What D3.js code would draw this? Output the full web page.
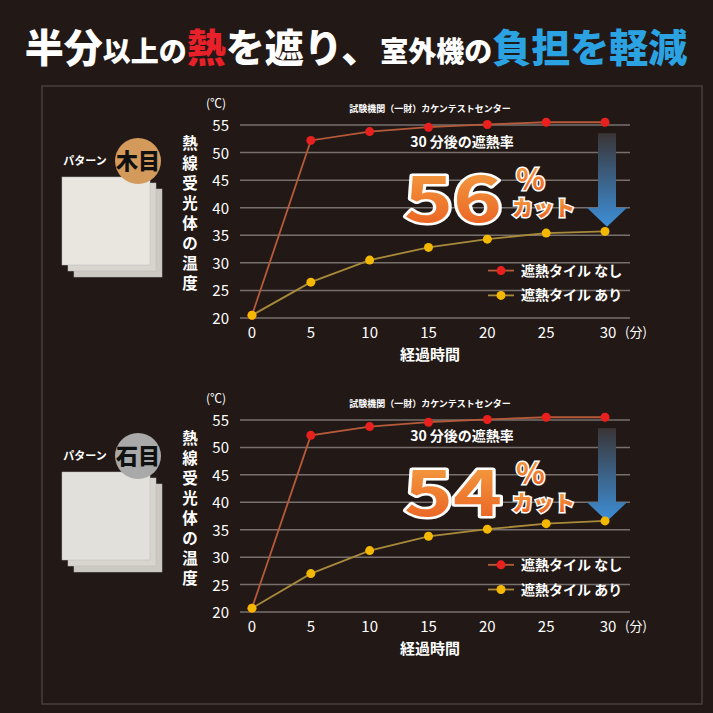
<!DOCTYPE html><html><head><meta charset="utf-8"><script src="https://cdn.jsdelivr.net/npm/d3@7"></script>
<style>body{margin:0;background:#221916}svg{display:block}text{font-family:"Noto Sans CJK JP",sans-serif}</style></head><body>
<svg id="c" width="713" height="713"></svg>
<script>
const minutes=[0,5,10,15,20,25,30];
const yTicks=[20,25,30,35,40,45,50,55];
const woodNone=[20.5,52.2,53.8,54.6,55.1,55.5,55.5];
const woodWith=[20.5,26.5,30.5,32.8,34.3,35.4,35.7];
const stoneNone=[20.7,52.2,53.8,54.6,55.1,55.5,55.5];
const stoneWith=[20.7,27.0,31.2,33.8,35.1,36.1,36.6];
const panels=[{top:125,bot:318,none:woodNone,with:woodWith,pct:"56",pat:"木目",circ:"#d39a5c",tile:"#e8e6df"},
{top:420,bot:612,none:stoneNone,with:stoneWith,pct:"54",pat:"石目",circ:"#a9a9a9",tile:"#e2e0da"}];
const svg=d3.select("#c");
svg.append("rect").attr("width",713).attr("height",713).attr("fill","#221916");
svg.append("rect").attr("x",42).attr("y",86).attr("width",660).attr("height",618).attr("fill","none").attr("stroke","#4a3e3a").attr("stroke-width",1.5);
const t=svg.append("text").attr("x",356).attr("y",62).attr("text-anchor","middle").attr("font-weight","900").attr("fill","#fff");
[["半分","#fff",39],["以上の","#fff",28],["熱","#e8202a",39],["を遮り、","#fff",39],["室外機の","#fff",28],["負担を軽減","#2ba3e3",39]].forEach(([s,c,f])=>t.append("tspan").text(s).attr("fill",c).attr("font-size",f));
const x=d3.scaleLinear().domain([0,30]).range([252,605]);
const defs=svg.append("defs");
const g1=defs.append("linearGradient").attr("id","arr").attr("x1",0).attr("x2",0).attr("y1",0).attr("y2",1);
g1.append("stop").attr("offset",0).attr("stop-color","#3a3536");g1.append("stop").attr("offset",1).attr("stop-color","#3d8fd8");
const g2=defs.append("linearGradient").attr("id","num").attr("x1",0).attr("x2",0).attr("y1",0).attr("y2",1);
g2.append("stop").attr("offset",0).attr("stop-color","#f7b04a");g2.append("stop").attr("offset",1).attr("stop-color","#e8571e");
panels.forEach(p=>{
 const y=d3.scaleLinear().domain([20,55]).range([p.bot,p.top]);
 const g=svg.append("g");
 yTicks.forEach(v=>{g.append("line").attr("x1",240).attr("x2",630).attr("y1",y(v)).attr("y2",y(v)).attr("stroke","#77706d").attr("stroke-width",1.5);
  g.append("text").attr("x",229).attr("y",y(v)+6).attr("text-anchor","end").attr("fill","#fff").attr("font-size",15).attr("font-family","Liberation Sans,Arial").text(v);});
 g.append("text").attr("x",206).attr("y",y(55)-17).attr("fill","#fff").attr("font-size",12).text("(℃)");
 minutes.forEach(m=>g.append("text").attr("x",x(m)+(m==30?3:0)).attr("y",p.bot+20).attr("text-anchor","middle").attr("fill","#fff").attr("font-size",15).attr("font-family","Liberation Sans,Arial").text(m));
 g.append("text").attr("x",636).attr("y",p.bot+19).attr("text-anchor","middle").attr("fill","#fff").attr("font-size",13).text("(分)");
 g.append("text").attr("x",430).attr("y",p.bot+42).attr("text-anchor","middle").attr("fill","#fff").attr("font-size",15).attr("font-weight","bold").text("経過時間");
 g.append("text").attr("x",430).attr("y",y(55)-13).attr("text-anchor","middle").attr("fill","#fff").attr("font-size",9).attr("font-weight","bold").text("試験機関（一財）カケンテストセンター");
 g.append("path").attr("d",`M598,${y(53.5)} h18 v${y(40)-y(53.5)} h11 l-20,19 l-20,-19 h11 z`).attr("fill","url(#arr)");
 g.append("text").attr("x",462).attr("y",y(52)+5).attr("text-anchor","middle").attr("fill","#fff").attr("font-size",14).attr("font-weight","bold").text("30 分後の遮熱率");
 g.append("text").attr("transform",`translate(404,${y(37.5)}) scale(1.3,1)`).attr("fill","url(#num)").attr("stroke","#fff").attr("stroke-width",5).attr("stroke-linejoin","round").attr("paint-order","stroke").attr("font-size",64).attr("font-weight","bold").attr("font-family","DejaVu Sans").text(p.pct);
 g.append("text").attr("x",516).attr("y",y(43.3)).attr("fill","url(#num)").attr("stroke","#fff").attr("stroke-width",3).attr("paint-order","stroke").attr("font-size",30).attr("font-weight","bold").attr("font-family","DejaVu Sans").text("%");
 g.append("text").attr("x",512).attr("y",y(38.6)).attr("fill","url(#num)").attr("stroke","#fff").attr("stroke-width",3).attr("paint-order","stroke").attr("font-size",21).attr("font-weight","900").text("カット");
 const line=d3.line().x((d,i)=>x(minutes[i])).y(d=>y(d));
 [[p.none,"#b65a3a","#e8201e"],[p.with,"#a88a3a","#f5b800"]].forEach(([d,lc,pc])=>{
  g.append("path").attr("d",line(d)).attr("fill","none").attr("stroke",lc).attr("stroke-width",1.8);
  g.selectAll(null).data(d).enter().append("circle").attr("cx",(v,i)=>x(minutes[i])).attr("cy",v=>y(v)).attr("r",4.5).attr("fill",pc);
 });
 [["遮熱タイル なし","#b65a3a","#e8201e",y(28.6)],["遮熱タイル あり","#a88a3a","#f5b800",y(24.1)]].forEach(([s,lc,pc,yy])=>{
  g.append("line").attr("x1",488).attr("x2",514).attr("y1",yy).attr("y2",yy).attr("stroke",lc).attr("stroke-width",1.8);
  g.append("circle").attr("cx",501).attr("cy",yy).attr("r",4.5).attr("fill",pc);
  g.append("text").attr("x",521).attr("y",yy+5).attr("fill","#fff").attr("font-size",14).attr("font-weight","bold").text(s);
 });
 const ty=p.top+30;
 ["#ccc9c2","#d8d5cf",p.tile].forEach((c,i)=>g.append("rect").attr("x",62+(2-i)*6).attr("y",ty+22+(2-i)*6).attr("width",88).attr("height",88).attr("fill",c).attr("stroke","#bbb").attr("stroke-width",0.5));
 g.append("circle").attr("cx",138).attr("cy",ty+6).attr("r",23).attr("fill",p.circ);
 g.append("text").attr("x",138).attr("y",ty+14).attr("text-anchor","middle").attr("font-size",22).attr("font-weight","900").attr("fill","#111").text(p.pat);
 g.append("text").attr("x",85).attr("y",ty+10).attr("text-anchor","middle").attr("font-size",11).attr("font-weight","bold").attr("fill","#fff").text("パターン");
 "熱線受光体の温度".split("").forEach((ch,i)=>g.append("text").attr("x",190).attr("y",ty-6+i*20).attr("text-anchor","middle").attr("font-size",15.5).attr("font-weight","bold").attr("fill","#fff").text(ch));
});
</script></body></html>
